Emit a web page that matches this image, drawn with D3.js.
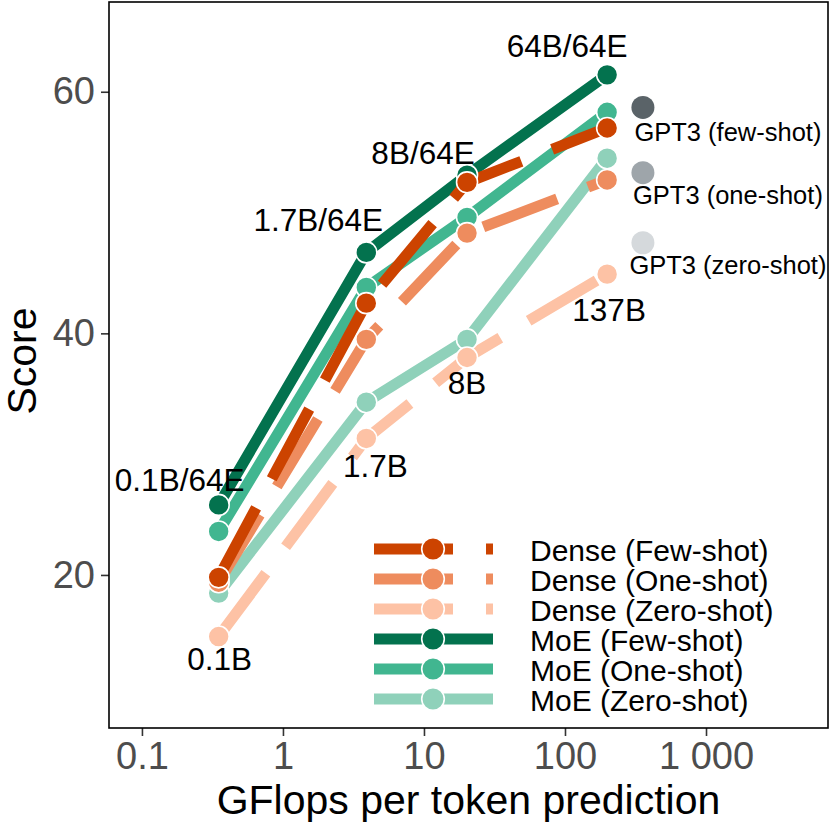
<!DOCTYPE html>
<html>
<head>
<meta charset="utf-8">
<script src="https://cdn.jsdelivr.net/npm/d3@7"></script>
<style>
  html, body { margin: 0; padding: 0; background: #fff; }
  svg { display: block; font-family: "Liberation Sans", Arial, Helvetica, sans-serif; }
</style>
</head>
<body>
<svg id="chart" width="830" height="825"></svg>
<script>
// ---------------- data ----------------
const gflops = [0.35, 3.9, 20.2, 199];           // x positions of model sizes
const gpt3Gflops = 357;

const denseFew  = [19.8, 42.5, 52.5, 57.0];
const denseOne  = [19.4, 39.5, 48.3, 52.7];
const denseZero = [14.9, 31.3, 38.0, 44.9];
const moeFew    = [25.8, 46.7, 53.1, 61.4];
const moeOne    = [23.6, 43.8, 49.6, 58.3];
const moeZero   = [18.5, 34.3, 39.5, 54.5];

const gpt3Scores = [58.7, 53.3, 47.5];
const gpt3Labels = ["GPT3 (few-shot)", "GPT3 (one-shot)", "GPT3 (zero-shot)"];

const moeSizeLabels   = ["0.1B/64E", "1.7B/64E", "8B/64E", "64B/64E"];
const denseSizeLabels = ["0.1B", "1.7B", "8B", "137B"];

const seriesNames = ["Dense (Few-shot)", "Dense (One-shot)", "Dense (Zero-shot)",
                     "MoE (Few-shot)", "MoE (One-shot)", "MoE (Zero-shot)"];
const seriesValues = [denseFew, denseOne, denseZero, moeFew, moeOne, moeZero];

const xTickValues = [0.1, 1, 10, 100, 1000];
const xTickLabels = ["0.1", "1", "10", "100", "1 000"];
const yTickValues = [20, 40, 60];

// ---------------- style / layout ----------------
const seriesColors = ["#CC4300", "#EE8C5E", "#FDC2A5", "#03724E", "#41B690", "#8FD1BA"];
const seriesDashed = [true, true, true, false, false, false];
const gpt3Colors = ["#5A6368", "#9EA5AA", "#D5D9DC"];
const dashPattern = "79 33";
const lineW = 11;
const ptR = 10.5;

// label offsets relative to their anchor points (layout only)
const moeLabelOffsets   = [[-39, -14], [-48, -21], [-44, -11], [-40, -18]];
const denseLabelOffsets = [[1, 33], [9, 39], [0, 36], [2, 47]];
const gpt3LabelOffsets  = [[85, 34], [85, 31], [85, 31]];

const panel = { left: 109, right: 828, top: 2, bottom: 728 };

const svg = d3.select("#chart");

const x = d3.scaleLog().domain([0.0584, 7330]).range([panel.left, panel.right]);
const y = d3.scaleLinear().domain([7.33, 67.43]).range([panel.bottom, panel.top]);

// panel background
svg.append("rect")
  .attr("x", panel.left).attr("y", panel.top)
  .attr("width", panel.right - panel.left).attr("height", panel.bottom - panel.top)
  .attr("fill", "#fff");

// axes
const xAxis = d3.axisBottom(x)
  .tickValues(xTickValues)
  .tickFormat((d, i) => xTickLabels[i])
  .tickSize(8).tickPadding(6);
const gx = svg.append("g").attr("transform", `translate(0,${panel.bottom})`).call(xAxis);

const yAxis = d3.axisLeft(y).tickValues(yTickValues).tickSize(8).tickPadding(6);
const gy = svg.append("g").attr("transform", `translate(${panel.left},0)`).call(yAxis);

[gx, gy].forEach(g => {
  g.select(".domain").remove();
  g.selectAll(".tick line").attr("stroke", "#333").attr("stroke-width", 1.6);
  g.selectAll(".tick text")
    .attr("fill", "#4d4d4d")
    .style("font-size", "38px")
    .style("font-family", '"Liberation Sans", Arial, sans-serif');
});

// plotting data layer
const plot = svg.append("g");
const lineGen = d3.line().x(d => x(d[0])).y(d => y(d[1]));

// draw order: MoE zero, one, few, then Dense zero, one, few
const drawOrder = [5, 4, 3, 2, 1, 0];

drawOrder.forEach(si => {
  const pts = gflops.map((g, i) => [g, seriesValues[si][i]]);
  plot.append("path")
    .attr("d", lineGen(pts))
    .attr("fill", "none")
    .attr("stroke", seriesColors[si])
    .attr("stroke-width", lineW)
    .attr("stroke-linecap", "butt")
    .attr("stroke-linejoin", "round")
    .attr("stroke-dasharray", seriesDashed[si] ? dashPattern : null);
});

drawOrder.forEach(si => {
  const pts = gflops.map((g, i) => [g, seriesValues[si][i]]);
  plot.selectAll(null).data(pts).enter().append("circle")
    .attr("cx", d => x(d[0])).attr("cy", d => y(d[1]))
    .attr("r", ptR)
    .attr("fill", seriesColors[si])
    .attr("stroke", "#fff").attr("stroke-width", 1.6);
});

// GPT3 points
plot.selectAll(null).data(gpt3Scores).enter().append("circle")
  .attr("cx", x(gpt3Gflops)).attr("cy", d => y(d))
  .attr("r", 11.5)
  .attr("fill", (d, i) => gpt3Colors[i]);

// labels
const labelFont = "31.5px";
moeSizeLabels.forEach((t, i) => {
  plot.append("text")
    .attr("x", x(gflops[i]) + moeLabelOffsets[i][0])
    .attr("y", y(moeFew[i]) + moeLabelOffsets[i][1])
    .attr("text-anchor", "middle")
    .style("font-size", labelFont).attr("fill", "#000")
    .text(t);
});
denseSizeLabels.forEach((t, i) => {
  plot.append("text")
    .attr("x", x(gflops[i]) + denseLabelOffsets[i][0])
    .attr("y", y(denseZero[i]) + denseLabelOffsets[i][1])
    .attr("text-anchor", "middle")
    .style("font-size", labelFont).attr("fill", "#000")
    .text(t);
});
gpt3Labels.forEach((t, i) => {
  plot.append("text")
    .attr("x", x(gpt3Gflops) + gpt3LabelOffsets[i][0])
    .attr("y", y(gpt3Scores[i]) + gpt3LabelOffsets[i][1])
    .attr("text-anchor", "middle")
    .style("font-size", "25.5px").attr("fill", "#000")
    .text(t);
});

// legend
const legend = svg.append("g");
const legX0 = 374, legX1 = 493, legPt = 433, legY0 = 549, legStep = 30;
seriesNames.forEach((name, i) => {
  const cy = legY0 + i * legStep;
  legend.append("line")
    .attr("x1", legX0).attr("x2", legX1).attr("y1", cy).attr("y2", cy)
    .attr("stroke", seriesColors[i]).attr("stroke-width", lineW)
    .attr("stroke-linecap", "butt")
    .attr("stroke-dasharray", seriesDashed[i] ? dashPattern : null);
  legend.append("circle")
    .attr("cx", legPt).attr("cy", cy).attr("r", ptR + 0.8)
    .attr("fill", seriesColors[i]).attr("stroke", "#fff").attr("stroke-width", 1.6);
  legend.append("text")
    .attr("x", 530).attr("y", cy + 12)
    .style("font-size", "30px").attr("fill", "#000")
    .text(name);
});

// panel border
svg.append("rect")
  .attr("x", panel.left).attr("y", panel.top)
  .attr("width", panel.right - panel.left).attr("height", panel.bottom - panel.top)
  .attr("fill", "none").attr("stroke", "#000").attr("stroke-width", 1.6);

// axis titles
svg.append("text")
  .attr("x", (panel.left + panel.right) / 2).attr("y", 814)
  .attr("text-anchor", "middle")
  .style("font-size", "41px").attr("fill", "#000")
  .text("GFlops per token prediction");

svg.append("text")
  .attr("transform", `translate(36,${(panel.top + panel.bottom) / 2 - 4}) rotate(-90)`)
  .attr("text-anchor", "middle")
  .style("font-size", "41px").attr("fill", "#000")
  .text("Score");
</script>
</body>
</html>
